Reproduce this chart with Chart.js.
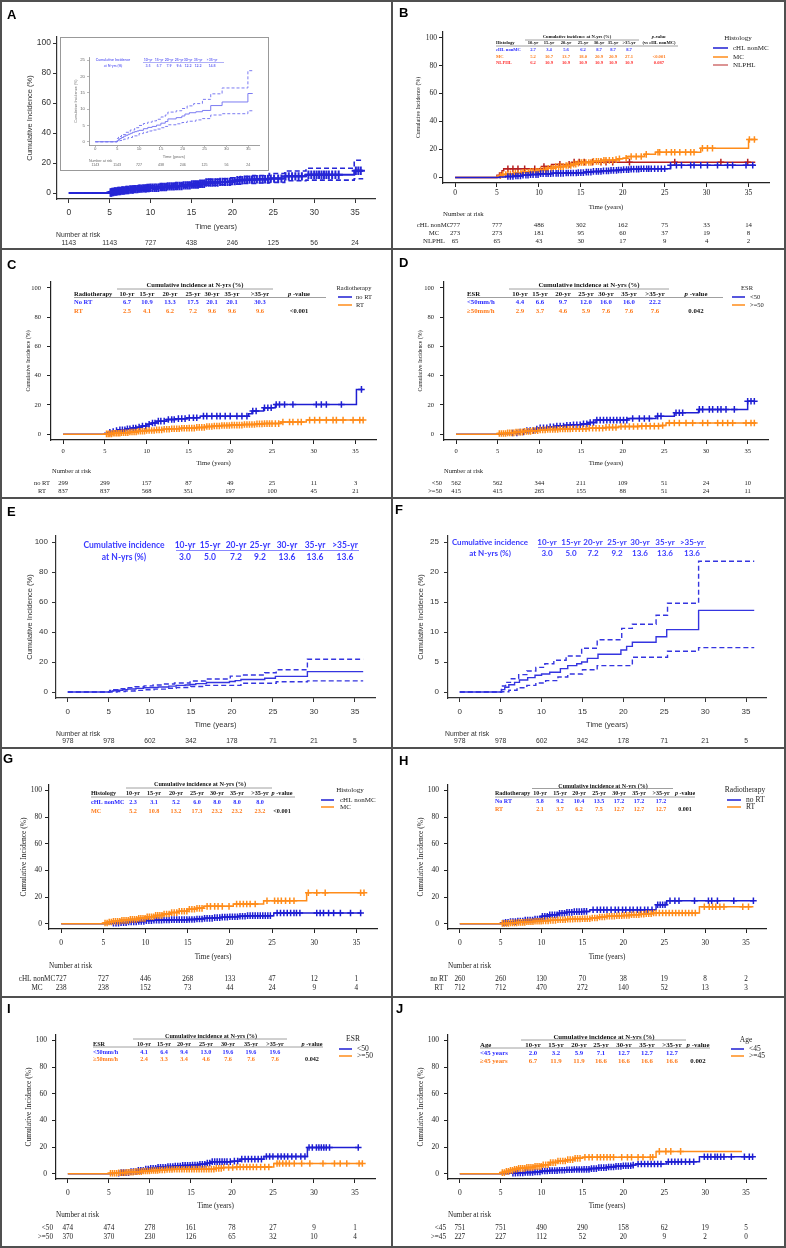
<!DOCTYPE html>
<html><head><meta charset="utf-8">
<script src="https://cdn.jsdelivr.net/npm/chart.js@4.4.1/dist/chart.umd.min.js"></script>
<style>
html,body{margin:0;padding:0;background:#fff}
body{width:786px;height:1248px;position:relative;overflow:hidden}
canvas{position:absolute}
.ln{position:absolute;background:#505050}
</style></head><body>
<script>
// ================= DATA =================
const xTicks=[0,5,10,15,20,25,30,35];
const riskTimes=[0,5,10,15,20,25,30,35];
const yTicks100=[0,20,40,60,80,100];
const yTicks25=[0,5,10,15,20,25];
const cumHdr=['10-yr','15-yr','20-yr','25-yr','30-yr','35-yr','>35-yr'];

// Panel A (all patients, with inset)
const A_est_t=[0,5.0,5.3,5.6,6.0,6.5,7.0,7.5,8.0,8.5,9.0,9.5,10.0,11.0,12.0,13.0,14.0,15.0,16.0,16.6,18.5,19.8,20.5,21.5,23.0,24.5,26.4,29.0,34.9,36.0];
const A_est_v=[0,0.3,0.7,1.0,1.3,1.7,2.0,2.3,2.6,2.9,3.1,3.3,3.5,4.0,4.4,4.7,5.1,5.7,6.2,7.0,7.4,7.9,8.5,8.9,9.2,9.6,11.1,12.2,14.8,14.8];
const A_up_t=[0,5.0,5.3,6,7,8,9,10,11,12,13,14,15,16,16.6,18.5,19.8,21,22.5,24.5,26.4,29.0,34.9,36.0];
const A_up_v=[0,1.0,1.6,2.2,2.9,3.6,4.3,5.0,5.6,6.0,6.4,6.9,7.6,8.2,9.1,9.5,10.2,11.0,11.7,13.0,14.7,16.5,21.8,21.8];
const A_lo_t=[0,5.0,5.6,6.5,7.5,8.5,10,11,12,13,14,15,16,16.6,18.5,19.8,21,23,24.5,26.4,29.0,34.9,36.0];
const A_lo_v=[0,0.1,0.4,0.8,1.3,1.8,2.5,2.9,3.3,3.6,3.9,4.3,4.7,5.2,5.5,5.9,6.3,6.7,7.1,8.2,8.6,9.5,9.5];
const A_cens=[5.1,5.2,5.3,5.45,5.6,5.7,5.85,6.0,6.15,6.3,6.5,6.65,6.8,7.0,7.15,7.3,7.5,7.7,7.85,8.0,8.2,8.4,8.55,8.7,8.9,9.1,9.3,9.45,9.6,9.8,10.0,10.25,10.5,10.7,10.95,11.2,11.4,11.65,11.9,12.1,12.35,12.6,12.85,13.1,13.3,13.55,13.8,14.05,14.3,14.55,14.8,15.05,15.3,15.55,15.8,16.05,16.3,16.55,16.8,17.1,17.35,17.6,17.9,18.2,18.5,18.8,19.1,19.4,19.7,20.0,20.3,20.6,20.9,21.2,21.5,21.8,22.1,22.4,22.7,23.0,23.35,23.7,24.0,24.35,24.7,25.1,25.6,26.0,26.5,26.9,27.3,27.7,28.1,28.5,29.3,29.65,30.0,30.3,30.6,30.9,31.2,31.5,31.8,32.2,32.6,33.0,35.1,35.4,35.7];
const A_risk=[1143,1143,727,438,246,125,56,24];
const A_tab=[3.5,5.7,7.9,9.6,12.2,12.2,14.8];

// Panels E / F
const EF_est_t=[0,5.1,5.5,6.0,6.7,7.3,8.3,9.2,10.0,11.0,12.3,13.2,14.3,14.9,15.6,16.9,19.7,20.4,21.1,24.0,25.3,29.2,36.0];
const EF_est_v=[0,0.4,0.8,1.2,1.6,2.0,2.4,2.8,3.0,3.3,3.9,4.4,4.7,5.0,5.6,6.3,7.0,7.6,8.3,9.2,10.4,13.6,13.6];
const EF_up_t=[0,5.1,5.6,6.3,7.2,8.2,9.3,10.4,11.5,13.0,14.9,16.8,19.8,21.1,24.0,25.4,29.2,36.0];
const EF_up_v=[0,1.0,1.6,2.2,2.9,3.5,4.1,4.7,5.3,6.0,7.3,8.7,10.6,11.3,12.8,14.8,21.8,21.8];
const EF_lo_t=[0,5.1,6.0,7.0,8.2,9.3,10.5,12.0,13.2,15.0,16.8,21.1,25.4,29.2,36.0];
const EF_lo_v=[0,0.05,0.3,0.7,1.1,1.5,1.9,2.5,3.0,3.7,4.4,5.8,6.8,7.4,7.4];
const EF_risk=[978,978,602,342,178,71,21,5];
const EF_tab=[3.0,5.0,7.2,9.2,13.6,13.6,13.6];

// Panel B (Histology)
const B_c_t=[0,5.3,6.0,7.0,8.0,9.0,10.0,11.5,13.0,14.5,15.5,16.5,17.5,18.5,19.5,20.0,21.0,22.0,25.7,35.8];
const B_c_v=[0,0.3,0.6,1.0,1.5,2.0,2.7,2.9,3.1,3.4,3.8,4.3,4.7,5.0,5.3,5.6,5.9,6.2,8.7,8.7];
const B_m_t=[0,5.0,5.3,5.7,6.2,7.0,8.0,9.0,10.0,11.0,12.0,13.0,14.0,14.5,15.0,16.5,17.5,19.0,19.5,20.0,20.5,22.6,23.9,29.3,35.0,35.9];
const B_m_v=[0,0.5,1.2,2.0,2.5,3.0,3.7,4.3,5.2,6.5,7.7,8.5,9.5,10.2,10.7,11.5,12.2,12.7,13.3,13.7,15.0,16.5,18.0,20.9,27.1,27.1];
const B_n_t=[0,5.0,5.3,5.6,5.8,10.6,11.5,14.2,35.8];
const B_n_v=[0,1.6,3.1,4.7,6.2,7.8,9.3,10.9,10.9];
const B_c_cens=[6.3,6.6,6.9,7.25,7.5,7.8,8.1,8.45,8.7,9.0,9.3,9.65,9.9,10.2,10.5,10.85,11.1,11.4,11.7,12.05,12.3,12.6,12.9,13.25,13.5,13.8,14.1,14.45,14.7,15.0,15.3,15.65,15.9,16.2,16.5,16.85,17.1,17.4,17.7,18.05,18.3,18.6,18.9,19.25,19.5,19.8,20.1,20.45,20.7,21.0,21.3,21.65,21.9,22.2,22.5,22.85,23.1,23.4,23.8,24.2,24.6,25.0,25.7,26.4,27.0,28.1,28.5,29.3,30.1,31.3,32.5,33.1,34.7,35.5];
const B_m_cens=[5.4,5.7,6.05,6.3,6.6,6.95,7.2,7.5,7.85,8.1,8.4,8.75,9.0,9.3,9.65,9.9,10.2,10.55,10.8,11.1,11.45,11.7,12.0,12.35,12.6,12.9,13.25,13.5,13.8,14.15,14.4,14.7,15.05,15.3,15.6,15.95,16.2,16.5,16.85,17.1,17.4,17.75,18.0,18.4,18.8,19.2,19.6,20.4,21.0,21.6,22.2,22.8,24.2,24.4,25.2,25.8,26.2,26.8,27.5,28.1,28.5,29.5,30.1,30.7,35.1,35.7];
const B_n_cens=[6.3,6.9,7.5,8.3,9.5,10.6,12.5,13.6,14.2,14.8,15.4,16.4,17.4,18.0,18.8,20.8,26.2,31.7,34.9];
const B_risk_c=[777,777,486,302,162,75,33,14];
const B_risk_m=[273,273,181,95,60,37,19,8];
const B_risk_n=[65,65,43,30,17,9,4,2];
const B_tab_c=[2.7,3.4,5.6,6.2,8.7,8.7,8.7];
const B_tab_m=[5.2,10.7,13.7,18.0,20.9,20.9,27.1];
const B_tab_n=[6.2,10.9,10.9,10.9,10.9,10.9,10.9];

// Panel C (Radiotherapy)
const C_b_t=[0,5.0,5.3,5.7,6.2,6.8,7.5,8.2,8.8,9.4,10.0,10.6,11.2,12.4,13.5,14.8,16.4,22.2,22.6,24.0,25.4,35.1,35.9];
const C_b_v=[0,0.6,1.2,1.8,2.4,3.0,3.6,4.2,4.8,5.5,6.7,7.6,8.9,10.0,10.6,11.2,12.3,13.9,15.8,18.0,20.3,30.6,30.6];
const C_o_t=[0,5.0,6.0,7.0,8.0,9.0,10.0,11.0,12.0,13.0,14.0,15.0,16.0,17.0,18.0,19.0,20.0,21.5,23.0,24.0,26.0,29.1,36.0];
const C_o_v=[0,0.2,0.6,1.0,1.5,2.0,2.5,2.9,3.3,3.7,4.0,4.1,4.6,5.2,5.6,5.9,6.2,6.6,7.0,7.2,8.3,9.6,9.6];
const C_b_cens=[5.6,6.0,6.4,6.8,7.1,7.4,7.7,8.0,8.4,8.7,9.1,9.5,9.9,10.3,10.7,11.0,11.4,11.7,12.1,12.6,13.0,13.3,13.8,14.2,14.6,15.1,15.6,16.0,16.8,17.2,17.8,18.4,18.8,19.4,20.0,20.8,21.4,22.0,22.7,23.1,24.1,24.5,24.9,25.5,25.9,26.5,27.5,30.3,30.9,31.5,33.3,35.7];
const C_o_cens=[5.2,5.4,5.6,5.8,6.0,6.2,6.4,6.6,6.8,7.0,7.25,7.5,7.75,8.0,8.25,8.5,8.75,9.0,9.25,9.5,9.75,10.0,10.3,10.6,10.9,11.2,11.5,11.8,12.1,12.4,12.7,13.0,13.3,13.6,13.9,14.2,14.5,14.8,15.1,15.4,15.7,16.0,16.3,16.6,16.9,17.2,17.5,17.8,18.1,18.4,18.7,19.0,19.3,19.6,19.9,20.2,20.5,20.8,21.1,21.4,21.7,22.0,22.3,22.6,22.9,23.2,23.5,23.8,24.1,24.4,24.7,25.0,25.4,25.8,26.3,27.1,27.5,28.1,28.5,29.5,30.1,30.7,31.5,32.3,32.7,33.5,34.7,35.5,35.9];
const C_risk_n=[299,299,157,87,49,25,11,3];
const C_risk_r=[837,837,568,351,197,100,45,21];
const C_tab_n=[6.7,10.9,13.3,17.5,20.1,20.1,30.3];
const C_tab_r=[2.5,4.1,6.2,7.2,9.6,9.6,9.6];

// Panel D (ESR)
const D_b_t=[0,5.5,6.5,7.5,8.5,9.5,10.0,11.0,12.0,13.0,14.0,15.0,16.0,16.8,20.6,24.0,26.2,29.1,35.0,35.8];
const D_b_v=[0,0.3,0.8,1.5,2.5,3.4,4.4,5.0,5.6,6.0,6.4,7.0,8.0,9.6,10.7,12.3,14.6,16.9,22.5,22.5];
const D_o_t=[0,5.0,6.0,7.0,8.0,9.0,10.0,11.0,12.5,14.0,16.0,18.0,19.5,22.0,24.5,25.2,36.0];
const D_o_v=[0,0.4,0.9,1.4,1.9,2.4,2.9,3.2,3.5,3.7,4.0,4.6,5.2,5.5,5.9,7.6,7.6];
const D_b_cens=[6.8,7.3,7.7,8.1,8.5,8.9,9.3,9.7,10.1,10.5,10.9,11.3,11.7,12.1,12.5,12.9,13.3,13.7,14.1,14.5,14.9,15.3,15.7,16.1,16.5,16.9,17.3,17.7,18.1,18.5,18.9,19.3,19.7,20.1,20.5,21.2,22.0,22.6,23.2,24.2,24.6,26.4,26.8,27.2,29.2,29.6,30.4,30.8,31.4,31.8,32.4,33.4,35.0,35.4,35.8];
const D_o_cens=[5.2,5.45,5.7,5.95,6.2,6.45,6.7,6.95,7.2,7.45,7.7,7.95,8.2,8.45,8.7,8.95,9.2,9.5,9.8,10.1,10.4,10.7,11.0,11.3,11.6,11.9,12.2,12.5,12.8,13.1,13.4,13.7,14.0,14.4,14.8,15.2,15.6,16.0,16.4,16.8,17.2,17.6,18.0,18.4,18.8,19.2,19.8,20.3,20.8,21.3,21.8,22.3,22.8,23.3,23.8,24.3,24.8,25.6,26.2,26.8,27.6,28.4,29.6,30.2,31.4,32.0,32.6,33.2,34.8,35.4,35.8];
const D_risk_a=[562,562,344,211,109,51,24,10];
const D_risk_b=[415,415,265,155,88,51,24,11];
const D_tab_a=[4.4,6.6,9.7,12.0,16.0,16.0,22.2];
const D_tab_b=[2.9,3.7,4.6,5.9,7.6,7.6,7.6];

// Panel G (Histology, subgroup)
const G_m_t=[0,5.0,5.5,6.0,7.0,8.0,9.0,10.0,11.0,12.0,13.0,14.0,15.0,16.0,16.9,20.4,24.0,29.1,35.9];
const G_m_v=[0,0.5,1.2,1.8,2.5,3.2,4.0,5.2,6.2,7.2,8.3,9.3,10.8,11.5,13.0,14.7,17.2,23.2,23.2];
const G_c_t=[0,6.0,7.0,8.0,9.0,10.0,11.0,12.0,13.0,15.0,16.0,17.0,18.0,19.0,20.0,21.0,22.0,25.2,35.6];
const G_c_v=[0,0.3,0.7,1.2,1.7,2.3,2.6,2.8,3.0,3.1,3.5,4.0,4.5,4.9,5.2,5.6,6.0,8.0,8.0];
const G_m_cens=[5.2,5.45,5.7,5.95,6.2,6.45,6.7,6.95,7.2,7.45,7.7,7.95,8.2,8.45,8.7,8.95,9.2,9.45,9.7,9.95,10.2,10.45,10.7,10.95,11.2,11.45,11.7,11.95,12.2,12.5,12.8,13.1,13.4,13.7,14.0,14.3,14.6,14.9,15.2,15.5,15.8,16.1,16.4,16.7,17.3,17.7,18.2,18.6,19.1,19.9,20.8,21.2,21.6,22.0,22.4,23.0,24.4,25.3,25.7,26.1,26.6,27.1,27.6,29.3,30.3,31.3,35.5,35.9];
const G_c_cens=[6.2,6.5,6.8,7.1,7.4,7.7,8.0,8.3,8.6,8.9,9.2,9.5,9.8,10.1,10.4,10.7,11.0,11.3,11.6,11.9,12.2,12.5,12.8,13.1,13.4,13.7,14.0,14.3,14.6,14.9,15.2,15.5,15.8,16.1,16.4,16.7,17.0,17.3,17.6,17.9,18.2,18.5,18.8,19.1,19.4,19.7,20.0,20.3,20.6,20.9,21.2,21.5,21.8,22.1,22.4,22.7,23.0,23.3,23.6,23.9,24.2,24.5,24.8,25.6,26.0,26.4,26.8,27.2,27.6,27.9,28.3,30.3,30.7,31.1,31.7,32.3,33.1,34.3,35.5];
const G_risk_c=[727,727,446,268,133,47,12,1];
const G_risk_m=[238,238,152,73,44,24,9,4];
const G_tab_c=[2.3,3.1,5.2,6.0,8.0,8.0,8.0];
const G_tab_m=[5.2,10.8,13.2,17.3,23.2,23.2,23.2];

// Panel H (Radiotherapy, subgroup)
const H_b_t=[0,5.0,5.5,6.0,7.0,8.0,9.0,10.0,11.0,12.0,13.0,14.0,15.0,15.9,24.0,25.3,35.9];
const H_b_v=[0,0.5,1.0,1.5,2.0,2.8,3.5,5.5,6.6,7.8,8.5,9.0,9.2,10.4,14.2,17.2,17.2];
const H_o_t=[0,5.0,6.0,7.0,8.0,9.0,10.0,11.0,12.0,13.0,14.0,15.0,16.0,17.0,18.0,19.0,20.0,21.0,22.0,22.8,23.6,29.3,35.9];
const H_o_v=[0,0.2,0.6,1.0,1.4,1.8,2.1,2.5,2.9,3.3,3.5,3.7,4.3,5.0,5.6,5.9,6.2,6.7,7.1,7.5,8.0,12.7,12.7];
const H_b_cens=[5.3,5.6,5.9,6.2,6.5,6.8,7.1,7.4,7.7,8.0,8.3,8.6,8.9,9.2,9.5,9.8,10.1,10.4,10.7,11.0,11.3,11.6,11.9,12.2,12.5,12.8,13.1,13.4,13.7,14.0,14.3,14.6,14.9,15.2,15.5,16.3,16.8,17.2,17.6,18.0,18.5,19.0,19.4,19.9,20.3,20.8,21.2,21.7,22.1,22.6,23.0,23.5,24.2,24.5,24.8,25.1,25.7,26.3,26.8,28.7,30.4,30.8,31.5,33.5,35.9];
const H_o_cens=[5.2,5.45,5.7,5.95,6.2,6.45,6.7,6.95,7.2,7.45,7.7,7.95,8.2,8.45,8.7,8.95,9.2,9.45,9.7,9.95,10.2,10.5,10.8,11.1,11.4,11.7,12.0,12.3,12.6,12.9,13.2,13.5,13.8,14.1,14.4,14.7,15.0,15.3,15.6,15.9,16.2,16.5,16.8,17.1,17.4,17.7,18.0,18.3,18.6,18.9,19.2,19.5,19.8,20.1,20.4,20.7,21.0,21.3,21.6,21.9,22.2,22.5,22.8,23.1,23.4,23.7,24.0,24.4,24.8,25.2,25.6,26.0,26.4,26.8,27.2,27.6,28.0,28.4,28.8,29.9,30.5,30.9,31.3,31.8,32.3,34.6,35.3];
const H_risk_n=[260,260,130,70,38,19,8,2];
const H_risk_r=[712,712,470,272,140,52,13,3];
const H_tab_n=[5.8,9.2,10.4,13.5,17.2,17.2,17.2];
const H_tab_r=[2.1,3.7,6.2,7.5,12.7,12.7,12.7];

// Panel I (ESR, subgroup)
const I_b_t=[0,5.5,6.5,7.5,8.5,9.5,10.0,11.0,12.0,13.0,14.0,15.0,16.0,17.0,17.5,20.0,21.0,23.9,29.2,35.5];
const I_b_v=[0,0.3,0.8,1.5,2.5,3.5,4.1,4.8,5.4,5.8,6.2,6.4,7.0,8.0,9.0,9.4,10.9,12.9,19.6,19.6];
const I_o_t=[0,5.0,6.0,7.0,8.0,9.0,10.0,11.0,12.0,13.0,15.0,18.0,19.0,20.5,25.1,35.9];
const I_o_v=[0,0.3,0.7,1.1,1.5,2.0,2.4,2.8,3.1,3.3,3.4,4.0,4.6,5.0,7.6,7.6];
const I_b_cens=[6.2,6.5,6.8,7.1,7.4,7.7,8.0,8.3,8.6,8.9,9.2,9.5,9.8,10.1,10.4,10.7,11.0,11.3,11.6,11.9,12.2,12.5,12.8,13.1,13.4,13.7,14.0,14.3,14.6,14.9,15.2,15.5,15.8,16.1,16.4,16.7,17.0,17.3,17.6,17.9,18.2,18.5,18.8,19.1,19.4,19.8,20.3,20.7,21.2,21.6,22.0,22.4,22.8,23.2,23.6,24.2,24.6,25.0,25.6,26.0,26.4,26.8,27.3,27.8,28.4,28.9,29.4,29.8,30.3,30.6,30.9,31.2,31.5,31.9,35.4];
const I_o_cens=[5.2,5.45,5.7,5.95,6.2,6.45,6.7,6.95,7.2,7.45,7.7,7.95,8.2,8.45,8.7,8.95,9.2,9.45,9.7,9.95,10.2,10.45,10.7,10.95,11.2,11.5,11.8,12.1,12.4,12.7,13.0,13.3,13.6,13.9,14.2,14.5,14.8,15.1,15.4,15.7,16.0,16.3,16.6,16.9,17.2,17.5,17.8,18.1,18.4,18.7,19.0,19.6,20.1,20.6,21.0,21.4,21.8,22.2,22.6,23.0,23.5,24.0,24.5,25.5,25.8,26.2,26.6,27.0,27.6,28.5,29.5,31.1,32.5,33.2,34.0,35.5,35.9];
const I_risk_a=[474,474,278,161,78,27,9,1];
const I_risk_b=[370,370,230,126,65,32,10,4];
const I_tab_a=[4.1,6.4,9.4,13.0,19.6,19.6,19.6];
const I_tab_b=[2.4,3.3,3.4,4.6,7.6,7.6,7.6];

// Panel J (Age)
const J_b_t=[0,6.0,7.0,8.0,9.0,10.0,11.0,12.0,13.0,14.0,15.0,16.0,17.0,18.0,19.0,20.0,21.0,21.5,25.3,29.3,35.9];
const J_b_v=[0,0.3,0.6,0.9,1.3,2.0,2.3,2.6,2.9,3.1,3.2,3.8,4.5,5.0,5.5,5.9,6.4,7.3,8.9,12.7,12.7];
const J_o_t=[0,5.0,5.5,6.0,6.5,7.0,8.0,9.0,10.0,11.0,12.0,13.0,14.0,15.0,24.0,34.5];
const J_o_v=[0,0.8,1.7,2.5,3.3,4.0,4.7,5.5,6.7,8.3,9.5,10.5,11.5,12.3,16.7,16.7];
const J_b_cens=[6.5,6.8,7.1,7.4,7.7,8.0,8.3,8.6,8.9,9.2,9.5,9.8,10.1,10.4,10.7,11.0,11.3,11.6,11.9,12.2,12.5,12.8,13.1,13.4,13.7,14.0,14.3,14.6,14.9,15.2,15.5,15.8,16.1,16.4,16.7,17.0,17.3,17.6,17.9,18.2,18.5,18.8,19.1,19.4,19.7,20.0,20.3,20.6,20.9,21.2,21.8,22.2,22.6,23.0,23.4,23.8,24.2,24.6,25.5,25.9,26.3,26.7,27.1,27.6,28.1,28.6,29.9,30.3,30.7,31.2,31.5,31.9,32.3,33.2,34.8,35.4,35.8];
const J_o_cens=[5.2,5.45,5.7,5.95,6.2,6.45,6.7,6.95,7.2,7.45,7.7,7.95,8.2,8.45,8.7,8.95,9.2,9.45,9.7,9.95,10.2,10.5,10.8,11.1,11.4,11.7,12.0,12.3,12.6,12.9,13.2,13.5,13.8,14.1,14.4,14.7,15.3,15.8,16.2,16.8,17.2,17.6,18.0,18.4,18.8,19.8,20.5,21.0,21.8,22.4,23.3,23.6,24.4,25.2,25.8,27.0];
const J_risk_a=[751,751,490,290,158,62,19,5];
const J_risk_b=[227,227,112,52,20,9,2,0];
const J_tab_a=[2.0,3.2,5.9,7.1,12.7,12.7,12.7];
const J_tab_b=[6.7,11.9,11.9,16.6,16.6,16.6,16.6];

// ================= STYLE / HELPERS =================
const SANS='"Liberation Sans", Arial, sans-serif';
const SERIF='"Liberation Serif", "Times New Roman", serif';
const CAL='Lato, "Open Sans", sans-serif';
const BLUE='#1e1ed2', ORANGE='#ff8c1a', RED='#b52020';
const BLUE_A='#2626d6', BLUE_E='#3535e0', BLUE_IN='#7b7bf2';
const TBLUE='#2b2bff', TORANGE='#ff7a1a', TRED='#ff2d2d';

function pts(t,v){return t.map((x,i)=>({x:x,y:v[i]}));}
function at(t,v,x){let y=v[0];for(let i=0;i<t.length&&t[i]<=x;i++)y=v[i];return y;}
function cpts(t,v,c){return c.map(x=>({x:x,y:at(t,v,x)}));}
function curve(t,v,color,w,dash){return {data:pts(t,v),borderColor:color,borderWidth:w,borderDash:dash||[],stepped:true,pointRadius:0,pointHoverRadius:0,fill:false};}
function marks(t,v,c,color,r,w){return {data:cpts(t,v,c),showLine:false,borderColor:color,backgroundColor:color,pointStyle:'cross',pointRadius:r,pointHoverRadius:r,pointBorderWidth:w,borderWidth:w};}

function txt(c,s,x,y,font,color,align,base){c.font=font;c.fillStyle=color;c.textAlign=align||'left';c.textBaseline=base||'middle';c.fillText(s,x,y);}
function seg(c,x1,y1,x2,y2,color,w){c.beginPath();c.strokeStyle=color;c.lineWidth=w;c.setLineDash([]);c.moveTo(x1,y1);c.lineTo(x2,y2);c.stroke();}
function pText(c,x,y,size,fam,color,sep){
  const a='p',b=(sep||'')+'-value';
  c.font=`italic bold ${size}px ${fam}`;const wa=c.measureText(a).width;
  c.font=`bold ${size}px ${fam}`;const wb=c.measureText(b).width;
  const x0=x-(wa+wb)/2;
  txt(c,a,x0,y,`italic bold ${size}px ${fam}`,color,'left');
  txt(c,b,x0+wa,y,`bold ${size}px ${fam}`,color,'left');
}
function serifTable(c,tb){
  const B=`bold ${tb.size}px ${SERIF}`;
  txt(c,'Cumulative incidence at N-yrs (%)',tb.h1x,tb.h1y,B,'#111','center');
  seg(c,tb.ul1[0],tb.ul1[2],tb.ul1[1],tb.ul1[2],'#888',0.8);
  txt(c,tb.hdr,tb.lx,tb.h2y,B,'#111','left');
  cumHdr.forEach((h,i)=>txt(c,h,tb.cols[i],tb.h2y,B,'#111','center'));
  pText(c,tb.px,tb.pHdrY,tb.size,SERIF,'#111',tb.pSep);
  if(tb.pSub)txt(c,tb.pSub,tb.px,tb.h2y,B,'#111','center');
  seg(c,tb.ul2[0],tb.ul2[2],tb.ul2[1],tb.ul2[2],'#888',0.8);
  tb.rows.forEach(r=>{
    txt(c,r.name,tb.lx,r.y,B,r.color,'left');
    r.vals.forEach((v,i)=>txt(c,v.toFixed(1),tb.cols[i],r.y,B,r.color,'center'));
    if(r.p)txt(c,r.p,tb.px,r.y,B,r.pColor||'#111','center');
  });
}
function calTable(c,tb){
  const F=`bold ${tb.size}px ${CAL}`;
  txt(c,tb.text1,tb.lx,tb.y1,F,tb.color,'center');
  txt(c,'at N-yrs (%)',tb.lx,tb.y2,F,tb.color,'center');
  cumHdr.forEach((h,i)=>txt(c,h,tb.cols[i],tb.y1,F,tb.color,'center'));
  seg(c,tb.ul[0],tb.ul[2],tb.ul[1],tb.ul[2],tb.ulColor,0.8);
  tb.vals.forEach((v,i)=>txt(c,v.toFixed(1),tb.cols[i],tb.y2,F,tb.color,'center'));
}
function legendBox(c,lg){
  const F=`${lg.size}px ${SERIF}`;
  txt(c,lg.title,lg.tx,lg.ty,F,'#222','center');
  lg.items.forEach((it,i)=>{seg(c,lg.x1,lg.ys[i],lg.x2,lg.ys[i],it.color,1.5);txt(c,it.label,lg.textX,lg.ys[i],F,'#222','left');});
}
function decor(cfg){return {id:'decor',
  beforeDraw(ch){if(cfg.bg){const c=ch.ctx;c.save();c.fillStyle='#fff';c.fillRect(0,0,ch.width,ch.height);c.strokeStyle=cfg.bg;c.lineWidth=1;c.strokeRect(0.5,0.5,ch.width-1,ch.height-1);c.restore();}},
  afterDraw(ch){
    const c=ch.ctx,[bx,by]=cfg.box,a=ch.chartArea,xs=ch.scales.x,fam=cfg.family,tc=cfg.textColor||'#222';
    c.save();c.translate(-bx,-by);
    if(cfg.letter)txt(c,cfg.letter[0],cfg.letter[1],cfg.letter[2],`bold 13px ${SANS}`,'#000','left','alphabetic');
    c.save();c.translate(cfg.yTitleX,by+(a.top+a.bottom)/2);c.rotate(-Math.PI/2);
    txt(c,'Cumulative Incidence (%)',0,0,`${cfg.yTitleSize}px ${fam}`,tc,'center');c.restore();
    txt(c,'Time (years)',bx+(a.left+a.right)/2,cfg.xTitleY,`${cfg.xTitleSize}px ${fam}`,tc,'center');
    const rf=`${cfg.riskSize}px ${fam}`;
    txt(c,'Number at risk',cfg.riskTitle[0],cfg.riskTitle[1],rf,tc,'left');
    cfg.riskRows.forEach(row=>{
      if(row.label)txt(c,row.label,cfg.riskLabelX,row.y,rf,tc,cfg.riskAlign||'center');
      row.vals.forEach((v,i)=>txt(c,String(v),bx+xs.getPixelForValue(riskTimes[i]),row.y,rf,tc,'center'));
    });
    if(cfg.legend)legendBox(c,cfg.legend);
    if(cfg.stab)serifTable(c,cfg.stab);
    if(cfg.ctab)calTable(c,cfg.ctab);
    c.restore();
  }};}

function mk(cfg){
  const [bx,by,bw,bh]=cfg.box,[l,t,r,b]=cfg.area,tl=cfg.tickLen||4;
  const cv=document.createElement('canvas');cv.width=bw;cv.height=bh;
  cv.style.left=bx+'px';cv.style.top=by+'px';cv.style.width=bw+'px';cv.style.height=bh+'px';
  document.body.appendChild(cv);
  const tf={family:cfg.family,size:cfg.tickSize,lineHeight:1.2};
  const xPad=cfg.xLabY-b-tl-0.6*cfg.tickSize;
  const yPad=l-tl-cfg.yLabRight;
  const ax=cfg.axisColor||'#222';
  const gridO=()=>({display:true,drawOnChartArea:false,drawTicks:true,tickLength:tl,tickColor:ax,tickWidth:cfg.tickW||1});
  const bordO=()=>({display:true,color:ax,width:cfg.axisW||1.2});
  return new Chart(cv,{type:'line',data:{datasets:cfg.datasets},options:{
    responsive:false,maintainAspectRatio:false,animation:false,devicePixelRatio:1,events:[],
    layout:{padding:{left:0,top:t-by,right:bx+bw-r,bottom:0}},
    plugins:{legend:{display:false},tooltip:{enabled:false},title:{display:false}},
    scales:{
      x:{type:'linear',min:-1.44,max:37.44,afterFit:s=>{s.height=by+bh-b;},afterBuildTicks:s=>{s.ticks=xTicks.map(v=>({value:v}));},
         grid:gridO(),border:bordO(),ticks:{font:tf,color:cfg.tickColor||'#222',padding:xPad,maxRotation:0,minRotation:0,autoSkip:false}},
      y:{type:'linear',min:cfg.yMin,max:cfg.yMax,afterFit:s=>{s.width=l-bx;},afterBuildTicks:s=>{s.ticks=cfg.yTicks.map(v=>({value:v}));},
         grid:gridO(),border:bordO(),ticks:{font:tf,color:cfg.tickColor||'#222',padding:yPad,autoSkip:false}}
    }},plugins:[decor(cfg)]});
}
function pair(t1,v1,c1,col1,t2,v2,c2,col2){
  return [curve(t2,v2,col2,1.5),marks(t2,v2,c2,col2,3.3,1.5),curve(t1,v1,col1,1.5),marks(t1,v1,c1,col1,3.3,1.5)];
}
const serifBase={family:SERIF,yMin:-4,yMax:104,yTicks:yTicks100,axisColor:'#222',tickColor:'#222',textColor:'#222'};

// ================= PANELS =================
// A
mk({box:[0,0,392,249],area:[57,37,375,199],family:SANS,tickSize:8.5,yTitleSize:7.5,xTitleSize:7.5,riskSize:6.8,
  xLabY:213,yLabRight:51,yTitleX:30,xTitleY:227,riskTitle:[56,235],riskRows:[{vals:A_risk,y:243}],
  letter:['A',7,19],yMin:-4,yMax:104,yTicks:yTicks100,axisColor:'#333',tickColor:'#333',textColor:'#333',
  datasets:[curve(A_up_t,A_up_v,BLUE_A,1.6,[5,3]),curve(A_lo_t,A_lo_v,BLUE_A,1.6,[5,3]),curve(A_est_t,A_est_v,BLUE_A,2),marks(A_est_t,A_est_v,A_cens,BLUE_A,4.2,2)]});
// A inset
mk({box:[60,37,209,134],bg:'#999',area:[89,57,259,145],family:SANS,tickSize:4.3,tickLen:2,yTitleSize:3.8,xTitleSize:4,riskSize:3.6,
  xLabY:149,yLabRight:85,yTitleX:76,xTitleY:157,riskTitle:[89,161],riskRows:[{vals:A_risk,y:165}],
  yMin:-1,yMax:26,yTicks:yTicks25,axisColor:'#888',tickColor:'#666',textColor:'#666',axisW:0.8,tickW:0.6,
  ctab:{text1:'Cumulative Incidence',size:3.6,lx:113,y1:60,y2:66,cols:[148,159,169,179,188,198,212],ul:[143,224,62.5],color:'#6a6af5',ulColor:'#9a9af5',vals:A_tab},
  datasets:[curve(A_up_t,A_up_v,BLUE_IN,1,[3,2]),curve(A_lo_t,A_lo_v,BLUE_IN,1,[3,2]),curve(A_est_t,A_est_v,BLUE_IN,1)]});
// B
mk(Object.assign({},serifBase,{box:[392,0,394,249],area:[443,32,769,183],tickSize:7.5,yTitleSize:5.8,xTitleSize:6.8,riskSize:6.8,
  xLabY:193,yLabRight:437,yTitleX:418,xTitleY:207,riskTitle:[443,214],
  riskRows:[{label:'cHL nonMC',vals:B_risk_c,y:225},{label:'MC',vals:B_risk_m,y:233},{label:'NLPHL',vals:B_risk_n,y:241}],riskLabelX:434,
  letter:['B',399,17],
  legend:{title:'Histology',tx:738,ty:38,size:7,ys:[48,57,65],x1:713,x2:728,textX:733,items:[{label:'cHL nonMC',color:BLUE},{label:'MC',color:ORANGE},{label:'NLPHL',color:'#d07070'}]},
  stab:{size:4.6,h1x:577,h1y:37,ul1:[525,639,40],hdr:'Histology',lx:496,h2y:43,cols:[533,549,566,583,599,613,629],px:659,pHdrY:37,pSub:'(vs cHL nonMC)',ul2:[496,678,46],
    rows:[{name:'cHL nonMC',vals:B_tab_c,color:TBLUE,y:50},{name:'MC',vals:B_tab_m,color:TORANGE,y:57,p:'<0.001',pColor:TORANGE},{name:'NLPHL',vals:B_tab_n,color:TRED,y:63,p:'0.087',pColor:TRED}]},
  datasets:[curve(B_c_t,B_c_v,BLUE,1.5),marks(B_c_t,B_c_v,B_c_cens,BLUE,3.3,1.5),curve(B_m_t,B_m_v,ORANGE,1.5),marks(B_m_t,B_m_v,B_m_cens,ORANGE,3.3,1.5),curve(B_n_t,B_n_v,RED,1.5),marks(B_n_t,B_n_v,B_n_cens,RED,3.3,1.5)]}));
// C
mk(Object.assign({},serifBase,{box:[0,249,392,249],area:[51,282,376,440],tickSize:6.5,yTitleSize:5.8,xTitleSize:6.8,riskSize:6.5,
  xLabY:451,yLabRight:41,yTitleX:28,xTitleY:463,riskTitle:[52,471],
  riskRows:[{label:'no RT',vals:C_risk_n,y:483},{label:'RT',vals:C_risk_r,y:491}],riskLabelX:42,
  letter:['C',7,269],
  legend:{title:'Radiotherapy',tx:354,ty:288,size:6.5,ys:[297,305],x1:338,x2:352,textX:356,items:[{label:'no RT',color:BLUE},{label:'RT',color:ORANGE}]},
  stab:{size:6.5,h1x:195,h1y:285,ul1:[117,273,289],hdr:'Radiotherapy',lx:74,h2y:294,cols:[127,147,170,193,212,232,260],px:299,pHdrY:294,pSep:' ',ul2:[74,326,297.5],
    rows:[{name:'No RT',vals:C_tab_n,color:TBLUE,y:302},{name:'RT',vals:C_tab_r,color:TORANGE,y:311,p:'<0.001'}]},
  datasets:pair(C_b_t,C_b_v,C_b_cens,BLUE,C_o_t,C_o_v,C_o_cens,ORANGE)}));
// D
mk(Object.assign({},serifBase,{box:[392,249,394,249],area:[444,282,768,440],tickSize:6.5,yTitleSize:5.8,xTitleSize:6.8,riskSize:6.5,
  xLabY:451,yLabRight:434,yTitleX:420,xTitleY:463,riskTitle:[444,471],
  riskRows:[{label:'<50',vals:D_risk_a,y:483},{label:'>=50',vals:D_risk_b,y:491}],riskLabelX:442,riskAlign:'right',
  letter:['D',399,267],
  legend:{title:'ESR',tx:747,ty:288,size:6.5,ys:[297,305],x1:732,x2:745,textX:750,items:[{label:'<50',color:BLUE},{label:'>=50',color:ORANGE}]},
  stab:{size:6.8,h1x:589,h1y:285,ul1:[509,669,289],hdr:'ESR',lx:467,h2y:294,cols:[520,540,563,586,606,629,655],px:696,pHdrY:294,pSep:' ',ul2:[467,723,297.5],
    rows:[{name:'<50mm/h',vals:D_tab_a,color:TBLUE,y:302},{name:'\u226550mm/h',vals:D_tab_b,color:TORANGE,y:311,p:'0.042'}]},
  datasets:pair(D_b_t,D_b_v,D_b_cens,BLUE,D_o_t,D_o_v,D_o_cens,ORANGE)}));
// E
mk({box:[0,498,392,250],area:[56,536,375,698],family:SANS,tickSize:8,yTitleSize:7.5,xTitleSize:7.5,riskSize:6.8,
  xLabY:712,yLabRight:48,yTitleX:30,xTitleY:725,riskTitle:[56,734],riskRows:[{vals:EF_risk,y:741}],
  letter:['E',7,516],yMin:-4,yMax:104,yTicks:yTicks100,axisColor:'#333',tickColor:'#333',textColor:'#333',
  ctab:{text1:'Cumulative incidence',size:8.5,lx:124,y1:545,y2:557,cols:[185,210,236,260,287,315,345],ul:[176,359,550.5],color:'#3a3aff',ulColor:'#6b6bff',vals:EF_tab},
  datasets:[curve(EF_up_t,EF_up_v,BLUE_E,1.4,[5,3]),curve(EF_lo_t,EF_lo_v,BLUE_E,1.4,[5,3]),curve(EF_est_t,EF_est_v,BLUE_E,1.4)]});
// F
mk({box:[392,498,394,250],area:[448,536,766,698],family:SANS,tickSize:8,yTitleSize:7.5,xTitleSize:7.5,riskSize:6.8,
  xLabY:712,yLabRight:439,yTitleX:421,xTitleY:725,riskTitle:[445,734],riskRows:[{vals:EF_risk,y:741}],
  letter:['F',395,514],yMin:-1,yMax:26,yTicks:yTicks25,axisColor:'#333',tickColor:'#333',textColor:'#333',
  ctab:{text1:'Cumulative incidence',size:8,lx:490,y1:542,y2:553,cols:[547,571,593,617,640,665,692],ul:[538,706,547.5],color:'#3a3aff',ulColor:'#6b6bff',vals:EF_tab},
  datasets:[curve(EF_up_t,EF_up_v,BLUE_E,1.4,[5,3]),curve(EF_lo_t,EF_lo_v,BLUE_E,1.4,[5,3]),curve(EF_est_t,EF_est_v,BLUE_E,1.4)]});
// G
mk(Object.assign({},serifBase,{box:[0,748,392,249],area:[49,785,377,929],tickSize:7.5,yTitleSize:7.5,xTitleSize:7.2,riskSize:7.2,
  xLabY:943,yLabRight:42,yTitleX:24,xTitleY:957,riskTitle:[49,966],
  riskRows:[{label:'cHL nonMC',vals:G_risk_c,y:979},{label:'MC',vals:G_risk_m,y:988}],riskLabelX:37,
  letter:['G',3,763],
  legend:{title:'Histology',tx:350,ty:790,size:7,ys:[800,807],x1:321,x2:334,textX:340,items:[{label:'cHL nonMC',color:BLUE},{label:'MC',color:ORANGE}]},
  stab:{size:6.2,h1x:200,h1y:784,ul1:[126,272,788],hdr:'Histology',lx:91,h2y:793,cols:[133,154,176,197,217,237,260],px:282,pHdrY:793,pSep:' ',ul2:[91,295,797],
    rows:[{name:'cHL nonMC',vals:G_tab_c,color:TBLUE,y:802},{name:'MC',vals:G_tab_m,color:TORANGE,y:811,p:'<0.001'}]},
  datasets:pair(G_c_t,G_c_v,G_c_cens,BLUE,G_m_t,G_m_v,G_m_cens,ORANGE)}));
// H
mk(Object.assign({},serifBase,{box:[392,748,394,249],area:[448,785,766,929],tickSize:7.5,yTitleSize:7.5,xTitleSize:7.2,riskSize:7.2,
  xLabY:943,yLabRight:439,yTitleX:421,xTitleY:957,riskTitle:[448,966],
  riskRows:[{label:'no RT',vals:H_risk_n,y:979},{label:'RT',vals:H_risk_r,y:988}],riskLabelX:439,
  letter:['H',399,765],
  legend:{title:'Radiotherapy',tx:745,ty:790,size:7.5,ys:[800,807],x1:727,x2:741,textX:746,items:[{label:'no RT',color:BLUE},{label:'RT',color:ORANGE}]},
  stab:{size:6,h1x:603,h1y:786,ul1:[532,673,788.5],hdr:'Radiotherapy',lx:495,h2y:793,cols:[540,560,579,599,619,639,661],px:685,pHdrY:793,pSep:' ',ul2:[495,695,797],
    rows:[{name:'No RT',vals:H_tab_n,color:TBLUE,y:801},{name:'RT',vals:H_tab_r,color:TORANGE,y:809,p:'0.001'}]},
  datasets:pair(H_b_t,H_b_v,H_b_cens,BLUE,H_o_t,H_o_v,H_o_cens,ORANGE)}));
// I
mk(Object.assign({},serifBase,{box:[0,997,392,251],area:[56,1035,375,1179],tickSize:7.5,yTitleSize:7.5,xTitleSize:7.2,riskSize:7.2,
  xLabY:1193,yLabRight:47,yTitleX:29,xTitleY:1206,riskTitle:[56,1215],
  riskRows:[{label:'<50',vals:I_risk_a,y:1228},{label:'>=50',vals:I_risk_b,y:1237}],riskLabelX:53,riskAlign:'right',
  letter:['I',7,1013],
  legend:{title:'ESR',tx:353,ty:1039,size:7.5,ys:[1049,1056],x1:339,x2:352,textX:357,items:[{label:'<50',color:BLUE},{label:'>=50',color:ORANGE}]},
  stab:{size:6.2,h1x:211,h1y:1036,ul1:[133,287,1039],hdr:'ESR',lx:93,h2y:1044,cols:[144,164,184,206,228,251,275],px:312,pHdrY:1044,pSep:' ',ul2:[93,323,1047],
    rows:[{name:'<50mm/h',vals:I_tab_a,color:TBLUE,y:1052},{name:'\u226550mm/h',vals:I_tab_b,color:TORANGE,y:1059,p:'0.042'}]},
  datasets:pair(I_b_t,I_b_v,I_b_cens,BLUE,I_o_t,I_o_v,I_o_cens,ORANGE)}));
// J
mk(Object.assign({},serifBase,{box:[392,997,394,251],area:[448,1035,766,1179],tickSize:7.5,yTitleSize:7.5,xTitleSize:7.2,riskSize:7.2,
  xLabY:1193,yLabRight:439,yTitleX:421,xTitleY:1206,riskTitle:[448,1215],
  riskRows:[{label:'<45',vals:J_risk_a,y:1228},{label:'>=45',vals:J_risk_b,y:1237}],riskLabelX:446,riskAlign:'right',
  letter:['J',396,1013],
  legend:{title:'Age',tx:746,ty:1040,size:7.5,ys:[1049,1056],x1:731,x2:744,textX:749,items:[{label:'<45',color:BLUE},{label:'>=45',color:ORANGE}]},
  stab:{size:6.8,h1x:604,h1y:1037,ul1:[521,686,1040],hdr:'Age',lx:480,h2y:1045,cols:[533,556,579,601,624,647,672],px:698,pHdrY:1045,pSep:' ',ul2:[480,710,1048],
    rows:[{name:'<45 years',vals:J_tab_a,color:TBLUE,y:1053},{name:'\u226545 years',vals:J_tab_b,color:TORANGE,y:1061,p:'0.002'}]},
  datasets:pair(J_b_t,J_b_v,J_b_cens,BLUE,J_o_t,J_o_v,J_o_cens,ORANGE)}));

// ================= FRAMES =================
[[0,0,786,2],[0,1246,786,2],[0,0,2,1248],[784,0,2,1248],[391,0,2,1248],[0,248,786,2],[0,497,786,2],[0,747,786,2],[0,996,786,2]].forEach(r=>{
  const d=document.createElement('div');d.className='ln';d.style.left=r[0]+'px';d.style.top=r[1]+'px';d.style.width=r[2]+'px';d.style.height=r[3]+'px';document.body.appendChild(d);
});
</script>
</body></html>
